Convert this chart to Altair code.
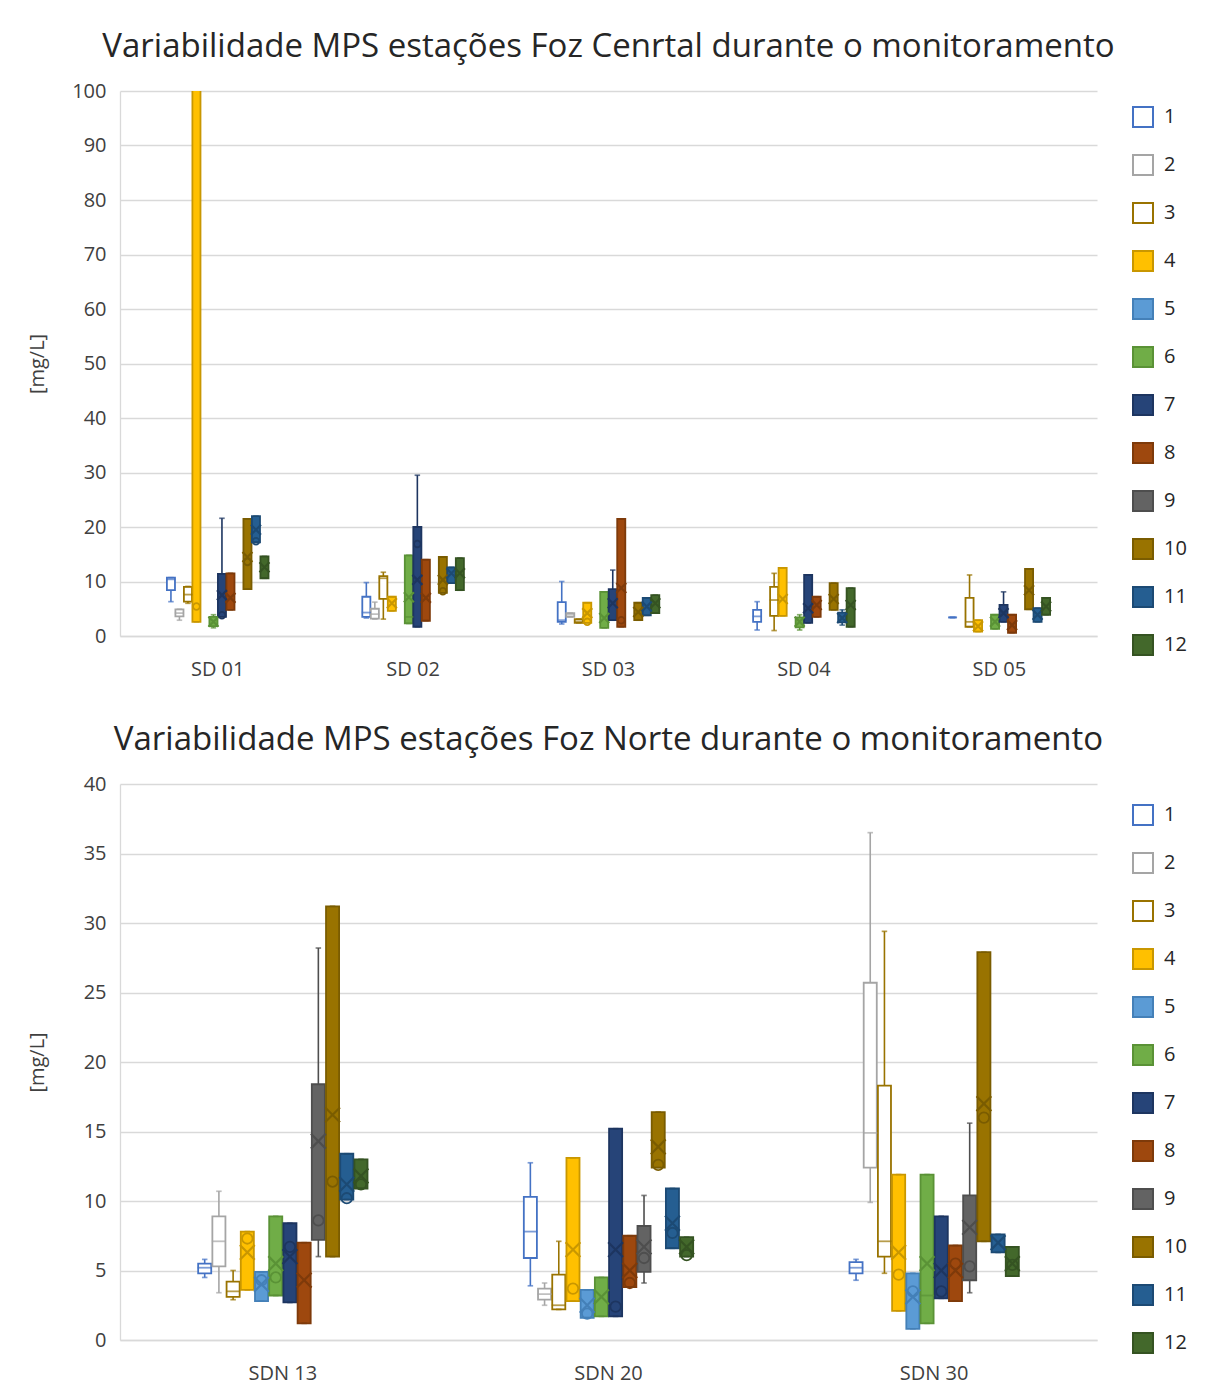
import altair as alt
import pandas as pd

FONT = "Open Sans"
SERIES = [str(i) for i in range(1, 13)]
FILL = ["#FFFFFF", "#FFFFFF", "#FFFFFF", "#FFC000", "#5B9BD5", "#70AD47",
        "#264478", "#9E480E", "#636363", "#997300", "#255E91", "#43682B"]
STROKE = ["#4472C4", "#A5A5A5", "#997300", "#C99700", "#4480B8", "#5A9236",
          "#1D3560", "#7E3A0A", "#4E4E4E", "#7A5C00", "#1C4A74", "#355322"]
N = None

# ---------------- top panel: Foz Central ----------------
TOP_TITLE = "Variabilidade MPS estações Foz Cenrtal durante o monitoramento"
TOP_CATS = ["SD 01", "SD 02", "SD 03", "SD 04", "SD 05"]
#            1     2     3     4     5    6     7     8     9    10    11    12
TOP_MIN = [[6.3, 2.9, 6.0, 2.6, N, 1.5, 3.5, 4.8, N, 8.6, 17.2, 10.6],
           [3.3, 3.1, 3.1, 4.6, N, 2.3, 1.7, 2.8, N, 7.9, 9.7, 8.4],
           [2.2, 3.5, 2.4, 2.4, N, 1.5, 2.9, 1.7, N, 2.9, 3.8, 4.2],
           [1.1, N, 1.0, 3.7, N, 1.1, 2.4, 3.5, N, 4.8, 2.0, 1.7],
           [3.4, N, 1.7, 0.8, N, 1.3, 2.6, 0.6, N, 4.9, 2.6, 3.9]]
TOP_Q1 = [[8.4, 3.6, 6.3, 2.6, N, 1.8, 3.5, 4.8, N, 8.6, 17.2, 10.6],
          [3.5, 3.2, 6.8, 4.6, N, 2.3, 1.7, 2.8, N, 7.9, 9.7, 8.4],
          [2.6, 3.5, 2.4, 2.4, N, 1.5, 2.9, 1.7, N, 2.9, 3.8, 4.2],
          [2.6, N, 3.7, 3.7, N, 1.6, 2.4, 3.5, N, 4.8, 2.5, 1.7],
          [3.4, N, 1.7, 0.8, N, 1.3, 2.6, 0.6, N, 4.9, 2.6, 3.9]]
TOP_MED = [[10.4, 4.2, 7.6, N, N, N, N, N, N, N, N, N],
           [4.3, 4.0, 10.6, N, N, 3.5, N, N, N, N, N, N],
           [2.9, 3.9, 2.7, N, N, N, N, N, N, N, N, N],
           [3.6, N, 6.6, N, N, N, N, N, N, N, N, N],
           [3.4, N, 2.6, N, N, N, N, N, N, N, N, N]]
TOP_Q3 = [[10.7, 4.9, 9.0, 130, N, 3.5, 11.4, 11.5, N, 21.5, 22.0, 14.6],
          [7.2, 5.0, 11.0, 7.2, N, 14.8, 20.0, 14.0, N, 14.5, 12.6, 14.3],
          [6.2, 4.2, 3.1, 6.1, N, 8.1, 8.6, 21.5, N, 6.1, 7.0, 7.5],
          [4.8, N, 9.0, 12.5, N, 3.4, 11.2, 7.2, N, 9.7, 4.3, 8.8],
          [3.4, N, 7.0, 2.9, N, 3.9, 5.7, 3.9, N, 12.3, 5.1, 7.0]]
TOP_MAX = [[10.7, 4.9, 9.1, 130, N, 3.9, 21.6, 11.5, N, 21.5, 22.0, 14.6],
           [9.8, 6.2, 11.7, 7.2, N, 14.8, 29.5, 14.0, N, 14.5, 12.6, 14.3],
           [10.0, 4.2, 3.1, 6.1, N, 8.1, 12.1, 21.5, N, 6.1, 7.0, 7.5],
           [6.3, N, 11.5, 12.5, N, 3.9, 11.2, 7.2, N, 9.7, 4.8, 8.8],
           [3.4, N, 11.2, 2.9, N, 3.9, 8.1, 3.9, N, 12.3, 5.1, 7.0]]
TOP_MEAN = [[N, N, N, 120, N, 2.6, 7.5, 7.0, N, 14.5, 19.5, 12.6],
            [N, N, N, 6.0, N, 7.1, 10.3, 7.0, N, 10.3, 11.5, 11.5],
            [N, N, N, 4.2, N, 3.3, 6.0, 8.8, N, 4.4, 5.4, 6.0],
            [N, N, N, 6.8, N, 2.6, 5.1, 5.7, N, 6.8, 3.3, 5.7],
            [N, N, N, 1.8, N, 2.6, 4.2, 2.0, N, 8.4, 3.9, 5.4]]
TOP_PT = [[N, N, N, 5.4, N, N, 3.8, N, N, 13.6, 17.4, N],
          [N, N, N, N, N, N, 16.9, N, N, 8.2, N, N],
          [N, N, N, 2.6, N, N, N, 2.9, N, N, N, N],
          [N, N, N, N, N, N, N, N, N, N, N, N],
          [N, N, N, N, N, N, N, N, N, N, N, N]]

# ---------------- bottom panel: Foz Norte ----------------
BOT_TITLE = "Variabilidade MPS estações Foz Norte durante o monitoramento"
BOT_CATS = ["SDN 13", "SDN 20", "SDN 30"]
BOT_MIN = [[4.5, 3.4, 2.9, 3.6, 2.8, 3.2, 2.7, 1.2, 6.0, 6.0, 10.1, 10.9],
           [3.9, 2.5, 2.2, 2.8, 1.6, 1.7, 1.7, 3.8, 4.1, 12.4, 6.6, 6.0],
           [4.3, 9.9, 4.8, 2.1, 0.8, 1.2, 3.0, 2.8, 3.4, 7.1, 6.3, 4.6]]
BOT_Q1 = [[4.8, 5.3, 3.1, 3.6, 2.8, 3.2, 2.7, 1.2, 7.2, 6.0, 10.1, 10.9],
          [5.9, 2.9, 2.2, 2.8, 1.6, 1.7, 1.7, 3.8, 4.9, 12.4, 6.6, 6.0],
          [4.8, 12.4, 6.0, 2.1, 0.8, 1.2, 3.0, 2.8, 4.3, 7.1, 6.3, 4.6]]
BOT_MED = [[5.2, 7.1, 3.5, N, N, N, N, N, N, N, N, N],
           [7.8, 3.3, 2.5, N, N, N, N, N, N, N, N, N],
           [5.2, 14.9, 7.1, N, N, 3.2, N, N, N, N, N, N]]
BOT_Q3 = [[5.5, 8.9, 4.2, 7.8, 4.9, 8.9, 8.4, 7.0, 18.4, 31.2, 13.4, 13.0],
          [10.3, 3.7, 4.7, 13.1, 3.6, 4.5, 15.2, 7.5, 8.2, 16.4, 10.9, 7.4],
          [5.6, 25.7, 18.3, 11.9, 4.8, 11.9, 8.9, 6.8, 10.4, 27.9, 7.6, 6.7]]
BOT_MAX = [[5.8, 10.7, 5.0, 7.8, 4.9, 8.9, 8.4, 7.0, 28.2, 31.2, 13.4, 13.0],
           [12.75, 4.1, 7.1, 13.1, 3.6, 4.5, 15.2, 7.5, 10.4, 16.4, 10.9, 7.4],
           [5.8, 36.5, 29.4, 11.9, 4.8, 11.9, 8.9, 6.8, 15.6, 27.9, 7.6, 6.7]]
BOT_MEAN = [[N, N, N, 6.3, 4.0, 5.5, 6.0, 4.3, 14.3, 16.2, 11.2, 11.8],
            [N, N, N, 6.5, 2.5, 3.1, 6.5, 5.0, 6.7, 13.9, 8.4, 6.7],
            [N, N, N, 6.3, 3.1, 5.5, 5.0, 5.0, 8.1, 17.0, 7.0, 5.5]]
BOT_PT = [[N, N, N, 7.3, 4.3, 4.5, 6.7, N, 8.6, 11.4, 10.2, 11.2],
          [N, N, N, 3.7, 1.9, N, 2.4, 4.1, 5.9, 12.6, 7.7, 6.1],
          [N, N, N, 4.7, 3.5, N, 3.5, 5.5, 5.3, 16.0, N, 5.4]]


def frame(cats, mn, q1, md, q3, mx, mean, pt):
    rows = []
    for ci, c in enumerate(cats):
        for si, s in enumerate(SERIES):
            if mn[ci][si] is None:
                continue
            rows.append(dict(cat=c, series=s, mn=mn[ci][si], q1=q1[ci][si],
                             med=md[ci][si], q3=q3[ci][si], mx=mx[ci][si],
                             mean=mean[ci][si], pt=pt[ci][si]))
    return pd.DataFrame(rows)


X_SHAPE = "M-1,-1L1,1M-1,1L1,-1"


def panel(df, cats, title, ymax, ystep, w, h, sub_pad, tick_size, x_size,
          c_size, leg_x, leg_y, title_pad, clip):
    xenc = alt.X("cat:N", sort=cats,
                 scale=alt.Scale(domain=cats, paddingInner=0.48, paddingOuter=0.24),
                 axis=alt.Axis(title=None, labelFontSize=20, labelFont=FONT,
                               labelColor="#404040", labelPadding=23, ticks=False,
                               labelAngle=0, domainColor="#D9D9D9", domainWidth=1.3))
    xoff = alt.XOffset("series:N", sort=SERIES,
                       scale=alt.Scale(domain=SERIES, paddingInner=sub_pad, paddingOuter=0))
    yscale = alt.Scale(domain=[0, ymax], nice=False, zero=True)
    yaxis = alt.Axis(title="[mg/L]", values=list(range(0, ymax + 1, ystep)),
                     labelFontSize=20, labelFont=FONT, labelColor="#404040",
                     titleFontSize=20, titleFont=FONT, titleColor="#404040",
                     titleFontWeight="normal", titlePadding=title_pad, labelPadding=14,
                     ticks=False, gridColor="#D9D9D9", gridWidth=1.3,
                     domainColor="#D9D9D9", domainWidth=1.3)
    sscale = alt.Scale(domain=SERIES, range=STROKE)
    fscale = alt.Scale(domain=SERIES, range=FILL)
    legend = alt.Legend(title=None, orient="none", legendX=leg_x, legendY=leg_y,
                        symbolType="square", symbolSize=400, symbolStrokeWidth=2,
                        labelFontSize=20, labelFont=FONT, labelColor="#262626",
                        rowPadding=20, labelOffset=10)
    s_plain = alt.Stroke("series:N", scale=sscale)

    base = alt.Chart(df).encode(x=xenc, xOffset=xoff)

    box = base.mark_bar(strokeWidth=1.8, clip=clip).encode(
        y=alt.Y("q1:Q", scale=yscale, axis=yaxis), y2="q3:Q",
        fill=alt.Fill("series:N", scale=fscale, legend=legend),
        stroke=alt.Stroke("series:N", scale=sscale, legend=legend))
    whisk_lo = base.mark_rule(strokeWidth=1.6, clip=clip).encode(
        y=alt.Y("mn:Q", scale=yscale, axis=yaxis), y2="q1:Q", stroke=s_plain)
    whisk_hi = base.mark_rule(strokeWidth=1.6, clip=clip).encode(
        y=alt.Y("q3:Q", scale=yscale, axis=yaxis), y2="mx:Q", stroke=s_plain)
    cap_lo = base.mark_tick(filled=False, thickness=0.2, strokeWidth=1.5,
                            size=4, clip=clip).encode(
        y=alt.Y("mn:Q", scale=yscale, axis=yaxis), stroke=s_plain)
    cap_hi = base.mark_tick(filled=False, thickness=0.2, strokeWidth=1.5,
                            size=4, clip=clip).encode(
        y=alt.Y("mx:Q", scale=yscale, axis=yaxis), stroke=s_plain)
    med = base.transform_filter("isValid(datum.med)").mark_tick(
        filled=False, thickness=0.2, strokeWidth=1.6, size=tick_size, clip=clip).encode(
        y=alt.Y("med:Q", scale=yscale, axis=yaxis), stroke=s_plain)
    mean = base.transform_filter("isValid(datum.mean)").mark_point(
        shape=X_SHAPE, filled=False, strokeWidth=2.2, size=x_size, opacity=1,
        clip=clip).encode(
        y=alt.Y("mean:Q", scale=yscale, axis=yaxis), stroke=s_plain)
    pts = base.transform_filter("isValid(datum.pt)").mark_point(
        shape="circle", filled=False, strokeWidth=1.8, size=c_size, opacity=1,
        clip=clip).encode(
        y=alt.Y("pt:Q", scale=yscale, axis=yaxis), stroke=s_plain)

    return alt.layer(box, whisk_lo, whisk_hi, cap_lo, cap_hi, med, mean, pts).properties(
        width=w, height=h,
        title=alt.TitleParams(title, font=FONT, fontSize=33, fontWeight="normal",
                              color="#262626", anchor="middle", frame="group",
                              offset=17))


top_df = frame(TOP_CATS, TOP_MIN, TOP_Q1, TOP_MED, TOP_Q3, TOP_MAX, TOP_MEAN, TOP_PT)
bot_df = frame(BOT_CATS, BOT_MIN, BOT_Q1, BOT_MED, BOT_Q3, BOT_MAX, BOT_MEAN, BOT_PT)

top = panel(top_df, TOP_CATS, TOP_TITLE, 100, 10, 977, 545, 0.05, 7.5, 100, 45,
            1012, 15, 24, True)
bot = panel(bot_df, BOT_CATS, BOT_TITLE, 40, 5, 977, 556, 0.08, 12.5, 220, 110,
            1012, 20, 36, False)

chart = alt.concat(top, bot, columns=1, spacing=45).resolve_scale(
    fill="independent", stroke="independent", x="independent", y="independent",
    xOffset="independent").resolve_legend(fill="independent", stroke="independent"
).properties(padding={"left": 19, "top": 23, "right": 5, "bottom": 3},
             background="white"
).configure_view(stroke="transparent", strokeWidth=0)

chart.save("out.html", embed_options={"renderer": "svg", "actions": False})
